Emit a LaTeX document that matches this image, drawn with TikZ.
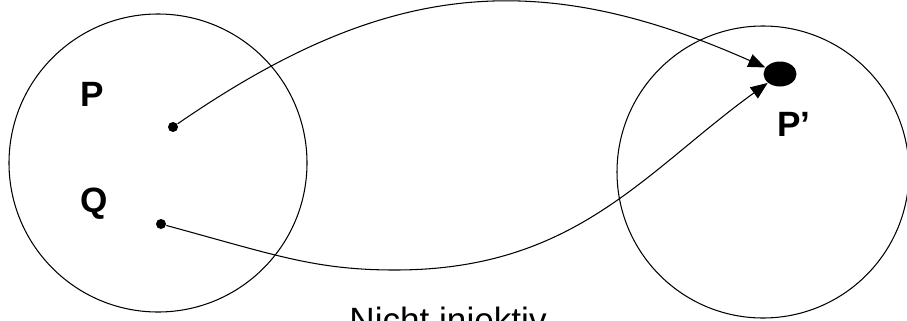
\documentclass[tikz,border=0pt]{standalone}
\usepackage{fontspec}
\setmainfont{Liberation Sans}
\usetikzlibrary{arrows.meta,shapes.geometric}

\begin{document}
\begin{tikzpicture}[>={Triangle[length=3.4mm,width=2.7mm]},line width=.6pt,
 dot/.style={circle,fill,inner sep=0pt,minimum size=2mm},
 setc/.style={circle,draw,inner sep=0pt},
 lbl/.style={font=\fontsize{20}{24}\selectfont\bfseries}]
\useasboundingbox(0,0)rectangle(18.14,6.4);
\node[setc,minimum size=5.96cm](Dom)at(3.16,3.14){};\node[setc,minimum size=5.84cm](Cod)at(15.26,2.96){};
\node[dot](Pd)at(3.46,3.86){};\node[dot](Qd)at(3.22,1.92){};\node[ellipse,fill,inner sep=0pt,minimum width=6.6mm,minimum height=5mm](Pp)at(15.6,4.92){};
\node[lbl](Pl)at(1.84,4.52){P};\node[lbl](Ql)at(1.88,2.32){Q};\node[lbl](Ppl)at(15.88,3.92){P’};
\draw[->](Pd)..controls(7.65,6.75)and(10.69,7.1)..(Pp);
\draw[->](Qd)..controls(5.5,1.3)and(6.3,1.0)..(7.9,1.0)coordinate(Low)..controls(11.5,1.0)and(12.88,2.95)..(Pp);
\node[anchor=base west,font=\fontsize{20}{24}\selectfont](Cap)at(6.86,-.24){Nicht injektiv};
\end{tikzpicture}
\end{document}
